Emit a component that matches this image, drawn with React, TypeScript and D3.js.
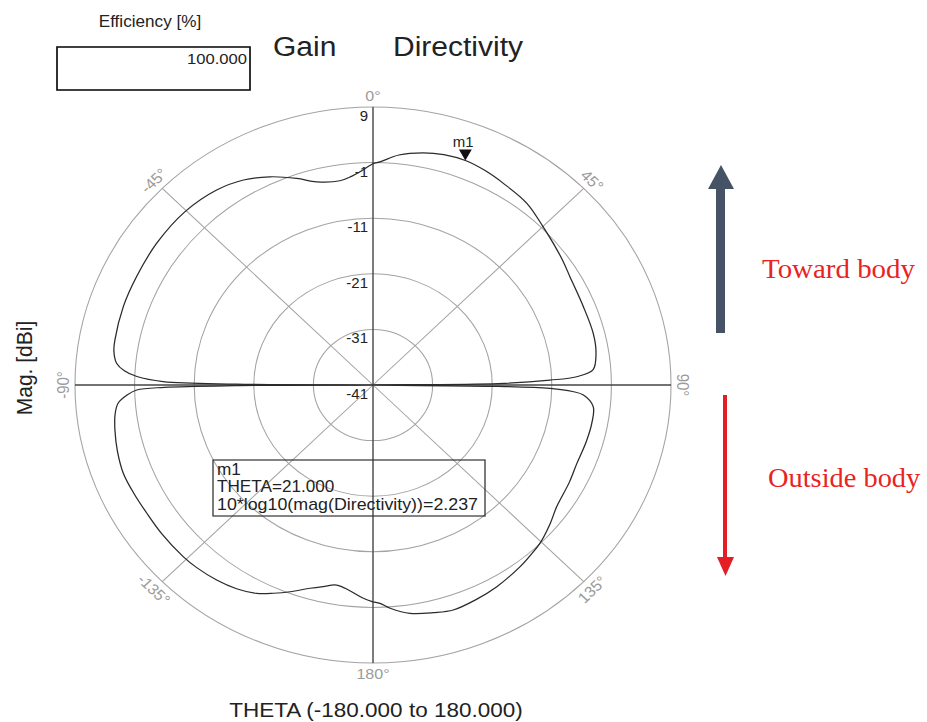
import React from "react";
import * as d3 from "d3";

// ---- data ----
const thetaDeg = [
  -180, -177.6, -174, -170.4, -167, -163.9, -159.5, -156, -152.5, -148, -143.2, -138, -134.1, -127, -121.3, -116,
  -110.8, -105.5, -100.6, -97, -94.4, -92.5, -91.3, -90.7, -90.3, -90, -89.6, -89, -87.8, -86.5, -84.8, -82,
  -79.4, -71.4, -63.8, -54.9, -45.4, -36.8, -30.5, -24.8, -19, -14.5, -8.6, -5.5, -3.25, 0, 1.7, 6, 11.4, 16,
  21, 26, 31.1, 38.3, 45.1, 49.9, 55, 59.5, 68.2, 75.9, 81.3, 85.8, 87.5, 88.3, 89.3, 90, 90.7, 91.2, 92, 92.9,
  96, 100.6, 106, 112.4, 118, 125.4, 130, 135.5, 139, 143, 150.2, 156, 161.6, 166, 171.4, 175.9, 178.3, 180,
];
const directivityDb = [
  -2.0, -2.6, -3.8, -4.5, -3.8, -2.95, -1.3, 0.0, 1.25, 2.2, 2.8, 3.2, 3.35, 3.4, 3.4, 3.6,
  3.8, 3.5, 3.05, 2.6, 1.9, 0.3, -1.35, -6, -18, -60, -18, -5.8, -1.35, 0.8, 2.2, 2.9,
  3.05, 3.2, 3.2, 3.35, 3.35, 2.8, 1.8, 0.25, -1.7, -3.25, -3.85, -3.3, -2.6, -1.2, -0.85, 0.6, 1.6, 2.1,
  2.237, 1.9, 1.35, 0.65, -0.7, -1.45, -2.1, -2.65, -3.0, -2.9, -3.15, -4.0, -6.8, -11.3, -20, -60, -20, -11.3, -7.5, -5.65,
  -3.85, -3.65, -3.8, -4.0, -3.7, -3.2, -2.2, -1.05, -0.6, -0.05, 0.8, 1.3, 1.65, 1.2, 0.55, -0.75, -1.7, -2.0,
];
const radialTicks = [-41, -31, -21, -11, -1, 9];
const angleTicks = [0, 45, 90, 135, 180, -135, -90, -45];
const angleTickLabels = ["0°", "45°", "90°", "135°", "180°", "-135°", "-90°", "-45°"];
const markerTheta = 21;
const markerValue = 2.237;
const markerLines = ["m1", "THETA=21.000", "10*log10(mag(Directivity))=2.237"];
const efficiencyValue = "100.000";

// ---- layout ----
const W = 927, H = 722;
const SX = 1.072; // reference is stretched horizontally
const CX = 373 / SX, CY = 385, R = 278;
const GRID = "#a3a3a3";
const LABEL_GRAY = "#9b9b9b";
const FONT = "Arial, 'Liberation Sans', Helvetica, sans-serif";
const SERIF = "'Liberation Serif', 'Times New Roman', serif";

export default function App() {
  const rScale = d3.scaleLinear().domain([-41, 9]).range([0, R]).clamp(true);
  const data = thetaDeg.map((t, i) => ({ t, v: directivityDb[i] }));
  const line = d3
    .lineRadial<{ t: number; v: number }>()
    .angle((d) => (d.t * Math.PI) / 180)
    .radius((d) => rScale(d.v))
    .curve(d3.curveCatmullRom.alpha(0.5));
  const pathD = line(data) || "";

  const polar = (tDeg: number, r: number) => {
    const a = (tDeg * Math.PI) / 180;
    return [CX + r * Math.sin(a), CY - r * Math.cos(a)];
  };
  const [mx, my] = polar(markerTheta, rScale(markerValue));

  return (
    <svg width={W} height={H} style={{ position: "absolute", left: 0, top: 0, background: "#fff" }}>
      <rect x={0} y={0} width={W} height={H} fill="#fff" />
      <g transform={`scale(${SX},1)`} fontFamily={FONT}>
        {/* efficiency */}
        <text x={150 / SX} y={27} textAnchor="middle" fontSize={16} fill="#222">Efficiency [%]</text>
        <rect x={57 / SX} y={47} width={193 / SX} height={43} fill="none" stroke="#111" strokeWidth={1.6} />
        <text x={247 / SX} y={64} textAnchor="end" fontSize={15.5} fill="#222">{efficiencyValue}</text>
        {/* titles */}
        <text x={273 / SX} y={56} fontSize={28} fill="#222">Gain</text>
        <text x={393 / SX} y={56} fontSize={28} fill="#222">Directivity</text>

        {/* rings */}
        {radialTicks.filter((t) => t > -41).map((t) => (
          <circle key={t} cx={CX} cy={CY} r={rScale(t)} fill="none" stroke={GRID} strokeWidth={1} />
        ))}
        {/* diagonal spokes */}
        {[45, 135, -135, -45].map((a) => {
          const [x, y] = polar(a, R);
          return <line key={a} x1={CX} y1={CY} x2={x} y2={y} stroke={GRID} strokeWidth={1} />;
        })}
        {/* main axes */}
        <line x1={CX} y1={CY - R} x2={CX} y2={CY + R} stroke="#444" strokeWidth={1.3} />
        <line x1={CX - R} y1={CY} x2={CX + R} y2={CY} stroke="#444" strokeWidth={1.3} />

        {/* radial tick labels */}
        {radialTicks.map((t) => (
          <text key={t} x={368 / SX} y={CY - rScale(t) + 14} textAnchor="end" fontSize={14} fill="#222">
            {t}
          </text>
        ))}

        {/* angle labels */}
        {angleTicks.map((a, i) => {
          const [x, y] = polar(a, R * 1.04);
          const rot = Math.abs(a) <= 90 ? a : a - 180 * Math.sign(a);
          return (
            <text
              key={a}
              x={x}
              y={y}
              transform={`rotate(${rot},${x},${y})`}
              textAnchor="middle"
              dominantBaseline="central"
              fontSize={15}
              fill={LABEL_GRAY}
            >
              {angleTickLabels[i]}
            </text>
          );
        })}

        {/* curve */}
        <path d={pathD} transform={`translate(${CX},${CY})`} fill="none" stroke="#2b2b2b" strokeWidth={1.2} />

        {/* marker */}
        <path d={`M${mx},${my} L${mx - 6},${my - 11} L${mx + 6},${my - 11} Z`} fill="#111" />
        <text x={mx - 2} y={my - 14} textAnchor="middle" fontSize={14} fill="#222">m1</text>

        {/* marker box */}
        <rect x={213 / SX} y={460} width={272 / SX} height={56} fill="none" stroke="#333" strokeWidth={1.2} />
        {markerLines.map((s, i) => (
          <text
            key={i}
            x={217 / SX}
            y={475 + i * 17.5}
            fontSize={16}
            fill="#222"
            {...(i === 2 ? { textLength: 261 / SX, lengthAdjust: "spacingAndGlyphs" } : {})}
          >
            {s}
          </text>
        ))}

        {/* axis titles */}
        <text x={376 / SX} y={717} textAnchor="middle" fontSize={21} fill="#222">THETA (-180.000 to 180.000)</text>
        <text
          x={32 / SX}
          y={368}
          transform={`rotate(-90,${32 / SX},368)`}
          textAnchor="middle"
          fontSize={21}
          fill="#222"
        >
          Mag. [dBi]
        </text>

        {/* annotation text */}
        <text x={762 / SX} y={278} fontSize={27} fill="#e8241f" fontFamily={SERIF}>
          Toward body
        </text>
        <text x={768 / SX} y={487} fontSize={26.5} fill="#e8241f" fontFamily={SERIF}>
          Outside body
        </text>
      </g>

      {/* arrows */}
      <rect x={716} y={186} width={9} height={147} fill="#465366" />
      <path d="M708,189 L734,189 L721,165 Z" fill="#465366" />
      <rect x={723} y={395} width={4} height={164} fill="#e31e24" />
      <path d="M717,557 L734,557 L725.5,576 Z" fill="#e31e24" />
    </svg>
  );
}
